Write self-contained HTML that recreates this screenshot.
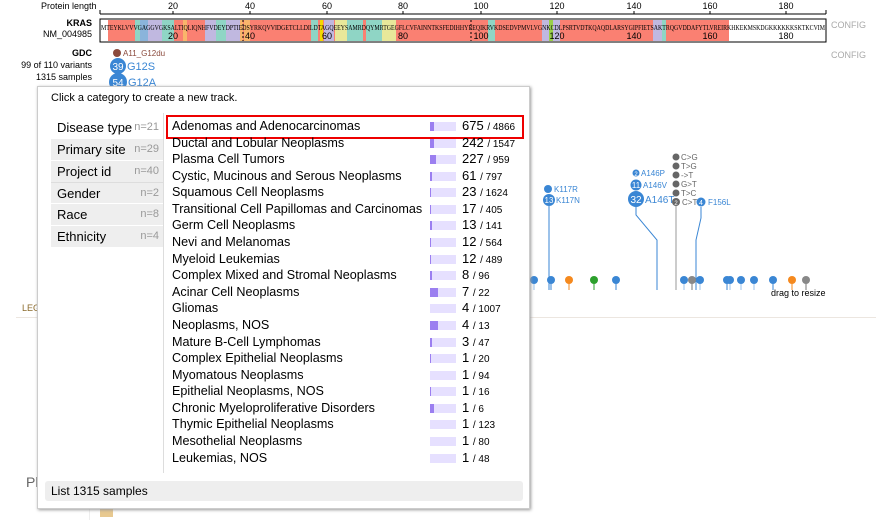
<!DOCTYPE html>
<html><head><meta charset="utf-8"><style>
body{margin:0;width:876px;height:520px;overflow:hidden;background:#fff;font-family:"Liberation Sans",Arial,sans-serif;position:relative}
.a{position:absolute;white-space:nowrap}
.pop{position:absolute;left:37px;top:86px;width:491px;height:421px;background:#fff;border:1px solid #ccc;box-shadow:1px 1px 3px #999}
.m{position:absolute;left:13px;width:112px;height:21px;font-size:13px;line-height:21px;padding-left:6px;box-sizing:border-box}
.m span{position:absolute;right:4px;font-size:11px;color:#999}
.r{position:absolute;left:134px;font-size:12.6px;line-height:16px;height:16px}
.b{position:absolute;left:392px;width:26px;height:9px;background:#e6e0ff;top:4px}
.b i{position:absolute;left:0;top:0;height:9px;background:#9b7ff0}
.n{position:absolute;left:424px;font-size:13px}
.n small{font-size:10px}
</style></head><body>
<div class="a" style="left:41px;top:1px;font-size:9px">Protein length</div>
<svg class="a" style="left:0;top:0" width="876" height="300">
<line x1="100" y1="14" x2="826" y2="14" stroke="#000"/>
<g stroke="#000"><line x1="100" y1="10" x2="100" y2="14"/><line x1="826" y1="10" x2="826" y2="14"/><line x1="173" y1="11" x2="173" y2="14"/><line x1="250" y1="11" x2="250" y2="14"/><line x1="327" y1="11" x2="327" y2="14"/><line x1="403" y1="11" x2="403" y2="14"/><line x1="481" y1="11" x2="481" y2="14"/><line x1="557" y1="11" x2="557" y2="14"/><line x1="634" y1="11" x2="634" y2="14"/><line x1="710" y1="11" x2="710" y2="14"/><line x1="786" y1="11" x2="786" y2="14"/></g>
<g font-size="9" text-anchor="middle"><text x="173" y="9">20</text><text x="250" y="9">40</text><text x="327" y="9">60</text><text x="403" y="9">80</text><text x="481" y="9">100</text><text x="557" y="9">120</text><text x="634" y="9">140</text><text x="710" y="9">160</text><text x="786" y="9">180</text></g>
<rect x="100" y="19" width="726" height="23" fill="#fff" stroke="#000"/>
<rect x="108" y="20" width="621" height="21" fill="#fa8072"/>
<rect x="135" y="20" width="5" height="21" fill="#8fd5c5"/><rect x="140" y="20" width="8" height="21" fill="#8ab4db"/><rect x="148" y="20" width="14" height="21" fill="#c0b8e0"/><rect x="162" y="20" width="12" height="21" fill="#8fd5c5"/><rect x="183" y="20" width="4" height="21" fill="#f9b56b"/><rect x="205" y="20" width="11" height="21" fill="#c0b8e0"/><rect x="216" y="20" width="10" height="21" fill="#8fd5c5"/><rect x="226" y="20" width="14" height="21" fill="#c0b8e0"/><rect x="240" y="20" width="3" height="21" fill="#f9b56b"/><rect x="244" y="20" width="6" height="21" fill="#f9b56b"/><rect x="311" y="20" width="7" height="21" fill="#8fd5c5"/><rect x="320" y="20" width="3" height="21" fill="#f5d800"/><rect x="324" y="20" width="10" height="21" fill="#c0b8e0"/><rect x="335" y="20" width="12" height="21" fill="#e8e89a"/><rect x="347" y="20" width="16" height="21" fill="#8fd5c5"/><rect x="366" y="20" width="16" height="21" fill="#8fd5c5"/><rect x="382" y="20" width="14" height="21" fill="#e8e89a"/><rect x="488" y="20" width="7" height="21" fill="#8fd5c5"/><rect x="542" y="20" width="7" height="21" fill="#c0b8e0"/><rect x="549" y="20" width="4" height="21" fill="#9ad04a"/><rect x="553" y="20" width="7" height="21" fill="#c0b8e0"/><rect x="653" y="20" width="9" height="21" fill="#c0b8e0"/><rect x="662" y="20" width="4" height="21" fill="#8fd5c5"/>
<line x1="243" y1="20" x2="243" y2="41" stroke="#000" stroke-dasharray="2,2"/><line x1="471" y1="20" x2="471" y2="41" stroke="#000" stroke-dasharray="2,2"/>
<text x="101" y="30" font-size="7.5" font-family="Liberation Serif" textLength="724" lengthAdjust="spacingAndGlyphs">MTEYKLVVVGAGGVGKSALTIQLIQNHFVDEYDPTIEDSYRKQVVIDGETCLLDILDTAGQEEYSAMRDQYMRTGEGFLCVFAINNTKSFEDIHHYREQIKRVKDSEDVPMVLVGNKCDLPSRTVDTKQAQDLARSYGIPFIETSAKTRQGVDDAFYTLVREIRKHKEKMSKDGKKKKKKSKTKCVIM</text>
<g font-size="9" text-anchor="middle"><text x="173" y="39">20</text><text x="250" y="39">40</text><text x="327" y="39">60</text><text x="403" y="39">80</text><text x="481" y="39">100</text><text x="557" y="39">120</text><text x="634" y="39">140</text><text x="710" y="39">160</text><text x="786" y="39">180</text></g>
<g font-size="9" fill="#aaa"><text x="831" y="28">CONFIG</text><text x="831" y="58">CONFIG</text></g>
<g font-size="9" text-anchor="end"><text x="92" y="26" font-weight="bold">KRAS</text><text x="92" y="37">NM_004985</text><text x="92" y="56" font-weight="bold">GDC</text><text x="92" y="68">99 of 110 variants</text><text x="92" y="80">1315 samples</text></g>
<circle cx="117" cy="53" r="4" fill="#8b4a3c"/><text x="123" y="56" font-size="8" fill="#8b4a3c">A11_G12du</text>
<circle cx="118" cy="66" r="8" fill="#3a86d4"/><text x="118" y="70" font-size="10" fill="#fff" text-anchor="middle">39</text><text x="127" y="70" font-size="11" fill="#3a86d4">G12S</text>
<circle cx="118" cy="82" r="9" fill="#3a86d4"/><text x="118" y="86" font-size="10" fill="#fff" text-anchor="middle">54</text><text x="128" y="86" font-size="11" fill="#3a86d4">G12A</text>
<g stroke="#3a86d4" stroke-width="1" fill="none">
<line x1="549" y1="206" x2="549" y2="290"/>
<polyline points="636,207 636,215 657,240 657,290"/>
<polyline points="701,207 701,218 696,240 696,290"/>
</g>
<line x1="676" y1="206" x2="676" y2="290" stroke="#bbb" stroke-width="1.5"/>
<circle cx="548" cy="189" r="4" fill="#3a86d4"/><text x="554" y="192" font-size="8" fill="#3a86d4">K117R</text>
<circle cx="549" cy="200" r="6" fill="#3a86d4"/><text x="549" y="203" font-size="8" fill="#fff" text-anchor="middle">13</text><text x="556" y="203" font-size="8" fill="#3a86d4">K117N</text>
<circle cx="636" cy="173" r="3.5" fill="#3a86d4"/><text x="636" y="176" font-size="6" fill="#fff" text-anchor="middle">2</text><text x="641" y="176" font-size="8" fill="#3a86d4">A146P</text>
<circle cx="636" cy="185" r="5.5" fill="#3a86d4"/><text x="636" y="188" font-size="8" fill="#fff" text-anchor="middle">11</text><text x="643" y="188" font-size="8" fill="#3a86d4">A146V</text>
<circle cx="636" cy="199" r="8" fill="#3a86d4"/><text x="636" y="203" font-size="10" fill="#fff" text-anchor="middle">32</text><text x="645" y="203" font-size="10" fill="#3a86d4">A146T</text>
<g fill="#666"><circle cx="676" cy="157" r="3.5"/><circle cx="676" cy="166" r="3.5"/><circle cx="676" cy="175" r="3.5"/><circle cx="676" cy="184" r="3.5"/><circle cx="676" cy="193" r="3.5"/><circle cx="676" cy="202" r="4"/></g>
<g font-size="8" fill="#666"><text x="681" y="160">C&gt;G</text><text x="681" y="169">T&gt;G</text><text x="681" y="178">-&gt;T</text><text x="681" y="187">G&gt;T</text><text x="681" y="196">T&gt;C</text><text x="682" y="205">C&gt;T</text></g>
<text x="676" y="205" font-size="6" fill="#fff" text-anchor="middle">2</text>
<circle cx="701" cy="202" r="4.5" fill="#3a86d4"/><text x="701" y="205" font-size="7" fill="#fff" text-anchor="middle">4</text><text x="708" y="205" font-size="8" fill="#3a86d4">F156L</text>
<g stroke-width="1">
<line x1="534" y1="280" x2="534" y2="290" stroke="#9bc3ec"/><line x1="551" y1="280" x2="551" y2="290" stroke="#3a86d4"/><line x1="569" y1="280" x2="569" y2="290" stroke="#f5891e"/><line x1="594" y1="280" x2="594" y2="290" stroke="#2ca02c"/><line x1="616" y1="280" x2="616" y2="290" stroke="#3a86d4"/><line x1="684" y1="280" x2="684" y2="290" stroke="#9bc3ec"/><line x1="692" y1="280" x2="692" y2="290" stroke="#777"/><line x1="700" y1="280" x2="700" y2="290" stroke="#9bc3ec"/><line x1="727" y1="280" x2="727" y2="290" stroke="#3a86d4"/><line x1="730" y1="280" x2="730" y2="290" stroke="#9bc3ec"/><line x1="741" y1="280" x2="741" y2="290" stroke="#9bc3ec"/><line x1="754" y1="280" x2="754" y2="290" stroke="#9bc3ec"/><line x1="773" y1="280" x2="773" y2="290" stroke="#3a86d4"/><line x1="792" y1="280" x2="792" y2="290" stroke="#f5891e"/><line x1="806" y1="280" x2="806" y2="290" stroke="#777"/>
</g>
<g fill="#3a86d4"><circle cx="534" cy="280" r="4"/><circle cx="551" cy="280" r="4"/><circle cx="616" cy="280" r="4"/><circle cx="684" cy="280" r="4"/><circle cx="700" cy="280" r="4"/><circle cx="727" cy="280" r="4"/><circle cx="730" cy="280" r="4"/><circle cx="741" cy="280" r="4"/><circle cx="754" cy="280" r="4"/><circle cx="773" cy="280" r="4"/></g>
<circle cx="569" cy="280" r="4" fill="#f5891e"/><circle cx="792" cy="280" r="4" fill="#f5891e"/><circle cx="594" cy="280" r="4" fill="#2ca02c"/><circle cx="692" cy="280" r="4" fill="#888"/><circle cx="806" cy="280" r="4" fill="#888"/>
<text x="771" y="296" font-size="9">drag to resize</text>
</svg>
<div class="a" style="left:16px;top:317px;width:860px;height:1px;background:#ece6e0"></div>
<div class="a" style="left:22px;top:303px;font-size:9px;color:#8b6a2b">LEG</div>
<div class="a" style="left:26px;top:474px;font-size:14px;color:#666">Pl</div>
<div class="a" style="left:89px;top:390px;width:1px;height:130px;background:#eee"></div>
<div class="a" style="left:100px;top:507px;width:13px;height:10px;background:#e8c990"></div>
<div class="pop">
<div class="a" style="left:13px;top:5px;font-size:11px">Click a category to create a new track.</div>
<div class="m" style="top:30px">Disease type<span>n=21</span></div>
<div class="m" style="top:52px;background:#eee">Primary site<span>n=29</span></div>
<div class="m" style="top:74px;background:#eee">Project id<span>n=40</span></div>
<div class="m" style="top:95px;background:#eee;border-top:1px solid #ddd">Gender<span>n=2</span></div>
<div class="m" style="top:117px;background:#eee">Race<span>n=8</span></div>
<div class="m" style="top:139px;background:#eee">Ethnicity<span>n=4</span></div>
<div class="a" style="left:125px;top:26px;width:1px;height:360px;background:#ddd"></div>
<div class="a" style="left:128px;top:28px;width:354px;height:20px;border:2px solid #e00"></div>
<div class="r" style="top:31px">Adenomas and Adenocarcinomas</div><div class="b" style="top:35px"><i style="width:4px"></i></div><div class="n" style="top:31px">675 <small>/ 4866</small></div>
<div class="r" style="top:48px">Ductal and Lobular Neoplasms</div><div class="b" style="top:52px"><i style="width:4px"></i></div><div class="n" style="top:48px">242 <small>/ 1547</small></div>
<div class="r" style="top:64px">Plasma Cell Tumors</div><div class="b" style="top:68px"><i style="width:6px"></i></div><div class="n" style="top:64px">227 <small>/ 959</small></div>
<div class="r" style="top:81px">Cystic, Mucinous and Serous Neoplasms</div><div class="b" style="top:85px"><i style="width:2px"></i></div><div class="n" style="top:81px">61 <small>/ 797</small></div>
<div class="r" style="top:97px">Squamous Cell Neoplasms</div><div class="b" style="top:101px"><i style="width:1px"></i></div><div class="n" style="top:97px">23 <small>/ 1624</small></div>
<div class="r" style="top:114px">Transitional Cell Papillomas and Carcinomas</div><div class="b" style="top:118px"><i style="width:1px"></i></div><div class="n" style="top:114px">17 <small>/ 405</small></div>
<div class="r" style="top:130px">Germ Cell Neoplasms</div><div class="b" style="top:134px"><i style="width:2px"></i></div><div class="n" style="top:130px">13 <small>/ 141</small></div>
<div class="r" style="top:147px">Nevi and Melanomas</div><div class="b" style="top:151px"><i style="width:1px"></i></div><div class="n" style="top:147px">12 <small>/ 564</small></div>
<div class="r" style="top:164px">Myeloid Leukemias</div><div class="b" style="top:168px"><i style="width:1px"></i></div><div class="n" style="top:164px">12 <small>/ 489</small></div>
<div class="r" style="top:180px">Complex Mixed and Stromal Neoplasms</div><div class="b" style="top:184px"><i style="width:2px"></i></div><div class="n" style="top:180px">8 <small>/ 96</small></div>
<div class="r" style="top:197px">Acinar Cell Neoplasms</div><div class="b" style="top:201px"><i style="width:8px"></i></div><div class="n" style="top:197px">7 <small>/ 22</small></div>
<div class="r" style="top:213px">Gliomas</div><div class="b" style="top:217px"><i style="width:0"></i></div><div class="n" style="top:213px">4 <small>/ 1007</small></div>
<div class="r" style="top:230px">Neoplasms, NOS</div><div class="b" style="top:234px"><i style="width:8px"></i></div><div class="n" style="top:230px">4 <small>/ 13</small></div>
<div class="r" style="top:247px">Mature B-Cell Lymphomas</div><div class="b" style="top:251px"><i style="width:2px"></i></div><div class="n" style="top:247px">3 <small>/ 47</small></div>
<div class="r" style="top:263px">Complex Epithelial Neoplasms</div><div class="b" style="top:267px"><i style="width:1px"></i></div><div class="n" style="top:263px">1 <small>/ 20</small></div>
<div class="r" style="top:280px">Myomatous Neoplasms</div><div class="b" style="top:284px"><i style="width:0"></i></div><div class="n" style="top:280px">1 <small>/ 94</small></div>
<div class="r" style="top:296px">Epithelial Neoplasms, NOS</div><div class="b" style="top:300px"><i style="width:1px"></i></div><div class="n" style="top:296px">1 <small>/ 16</small></div>
<div class="r" style="top:313px">Chronic Myeloproliferative Disorders</div><div class="b" style="top:317px"><i style="width:4px"></i></div><div class="n" style="top:313px">1 <small>/ 6</small></div>
<div class="r" style="top:329px">Thymic Epithelial Neoplasms</div><div class="b" style="top:333px"><i style="width:0"></i></div><div class="n" style="top:329px">1 <small>/ 123</small></div>
<div class="r" style="top:346px">Mesothelial Neoplasms</div><div class="b" style="top:350px"><i style="width:0"></i></div><div class="n" style="top:346px">1 <small>/ 80</small></div>
<div class="r" style="top:363px">Leukemias, NOS</div><div class="b" style="top:367px"><i style="width:0"></i></div><div class="n" style="top:363px">1 <small>/ 48</small></div>
<div class="a" style="left:7px;top:394px;width:478px;height:20px;background:#eee;border-radius:3px;font-size:12px;line-height:20px;padding-left:6px;box-sizing:border-box">List 1315 samples</div>
</div>
</body></html>
